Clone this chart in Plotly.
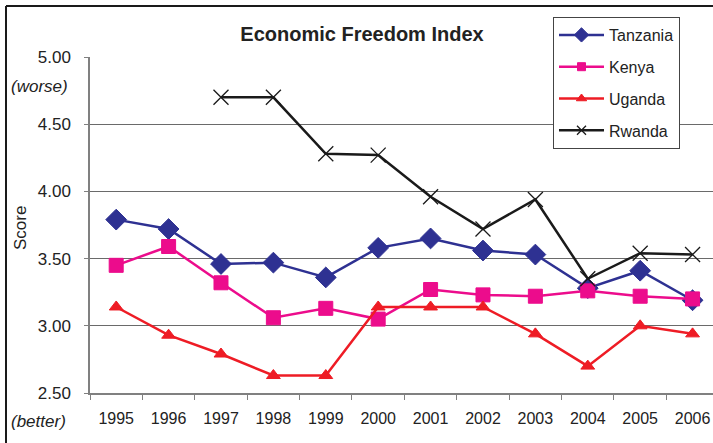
import plotly.graph_objects as go

years = ["1995", "1996", "1997", "1998", "1999", "2000", "2001", "2002", "2003", "2004", "2005", "2006"]
tanzania = [3.79, 3.72, 3.46, 3.47, 3.36, 3.58, 3.65, 3.56, 3.53, 3.28, 3.41, 3.19]
kenya = [3.45, 3.59, 3.32, 3.06, 3.13, 3.05, 3.27, 3.23, 3.22, 3.26, 3.22, 3.20]
uganda = [3.14, 2.93, 2.79, 2.63, 2.63, 3.14, 3.14, 3.14, 2.94, 2.70, 3.00, 2.94]
rwanda = [None, None, 4.70, 4.70, 4.28, 4.27, 3.96, 3.72, 3.94, 3.35, 3.54, 3.53]
y_ticks = [2.5, 3.0, 3.5, 4.0, 4.5, 5.0]

W, H = 713, 443
L, R, T, B = 90, 0, 57, 50
pw, ph = W - L - R, H - T - B

def px2x(px):
    return (px - L) / pw

def px2y(py):
    return (H - B - py) / ph

# name, values, colour, symbol, plot size, legend size, marker line width
series = [
    ("Tanzania", tanzania, "#2E3192", "diamond", 16, 11, 1),
    ("Kenya", kenya, "#EC0C8C", "square", 14, 8, 1),
    ("Uganda", uganda, "#EE1C25", "triangle-up", 12, 9, 1),
    ("Rwanda", rwanda, "#1A1A1A", "x-thin", 15, 9, 1.3),
]

fig = go.Figure()
for name, vals, color, sym, size, lsize, lw in series:
    fig.add_trace(go.Scatter(
        x=years, y=vals, name=name, mode="lines+markers",
        line=dict(color=color, width=2.5),
        marker=dict(symbol=sym, size=size, color=color,
                    line=dict(color=color, width=lw)),
        legendgroup=name, showlegend=False,
    ))
    # legend entry with the smaller legend marker
    fig.add_trace(go.Scatter(
        x=[None], y=[None], name=name, mode="lines+markers",
        line=dict(color=color, width=2.5),
        marker=dict(symbol=sym, size=lsize, color=color,
                    line=dict(color=color, width=lw)),
        legendgroup=name, showlegend=True,
    ))

font = "Liberation Sans, Arial, sans-serif"
fig.update_layout(
    width=W, height=H,
    margin=dict(l=L, r=R, t=T, b=B, pad=0),
    paper_bgcolor="white", plot_bgcolor="white",
    font=dict(family=font, size=16, color="#222222"),
    title=dict(text="<b>Economic Freedom Index</b>", x=362 / W,
               xanchor="center", y=1 - 34 / H, yanchor="middle",
               font=dict(size=20, color="#222222")),
    showlegend=True,
    legend=dict(x=px2x(553), y=px2y(17), xanchor="left", yanchor="top",
                bgcolor="white", bordercolor="#444444", borderwidth=1,
                itemwidth=45, tracegroupgap=8, font=dict(size=16),
                itemclick=False),
    xaxis=dict(type="category", range=[-0.5, 11.39], tickson="boundaries",
               ticks="outside", ticklen=5, tickcolor="#808080",
               showline=True, linecolor="#808080", linewidth=1.5,
               showgrid=False, ticklabelstandoff=10, zeroline=False,
               tickfont=dict(size=16)),
    yaxis=dict(range=[2.5, 5.0], tickvals=y_ticks, tickformat=".2f",
               ticks="outside", ticklen=4, tickcolor="#808080",
               showline=True, linecolor="#808080", linewidth=1.5,
               showgrid=True, gridcolor="#6a6a6a", gridwidth=1,
               zeroline=False, ticklabelstandoff=10,
               tickfont=dict(size=17)),
)

fig.add_annotation(text="Score", textangle=-90, xref="paper", yref="paper",
                   x=px2x(20), y=px2y(228), showarrow=False,
                   font=dict(size=17), xanchor="center", yanchor="middle")
fig.add_annotation(text="<i>(worse)</i>", xref="paper", yref="paper",
                   x=px2x(70), y=px2y(86), showarrow=False,
                   font=dict(size=17), xanchor="right", yanchor="middle")
fig.add_annotation(text="<i>(better)</i>", xref="paper", yref="paper",
                   x=px2x(68), y=px2y(421), showarrow=False,
                   font=dict(size=17), xanchor="right", yanchor="middle")

# outer chart border (top and left edges visible)
fig.add_shape(type="line", xref="paper", yref="paper",
              x0=px2x(6), x1=px2x(W + 5), y0=px2y(6), y1=px2y(6),
              line=dict(color="#1a1a1a", width=2), layer="above")
fig.add_shape(type="line", xref="paper", yref="paper",
              x0=px2x(6), x1=px2x(6), y0=px2y(6), y1=px2y(H + 5),
              line=dict(color="#1a1a1a", width=2), layer="above")

fig.write_html("out.html", config={"displayModeBar": False},
               post_script="document.body.style.margin='0';document.body.style.padding='0';")
